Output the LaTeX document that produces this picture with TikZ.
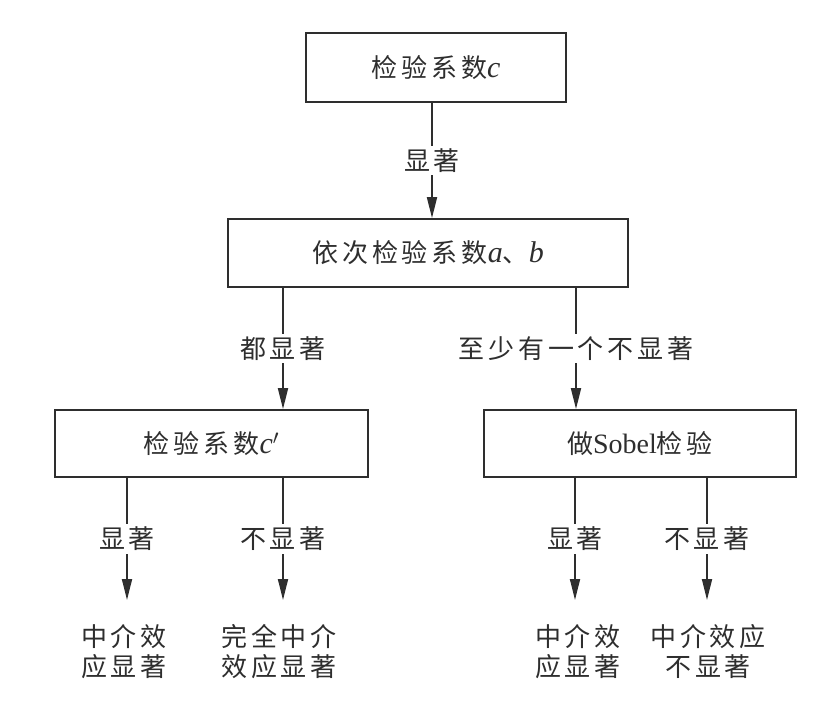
\documentclass[tikz,border=0pt]{standalone}
\usepackage{fontspec}
\usetikzlibrary{arrows.meta}
\newfontfamily\cjk[LetterSpace=15]{Noto Sans CJK SC}
\newfontfamily\tms{Liberation Serif}
\definecolor{ink}{HTML}{2E2E2E}
\tikzset{
  box/.style={draw=ink, line width=1.8pt, rectangle, inner sep=0pt, font=\cjk\fontsize{26}{30}\selectfont, text=ink},
  arr/.style={draw=ink, line width=1.8pt, -{Triangle[length=21pt,width=10pt]}},
  lab/.style={fill=white, inner xsep=1pt, inner ysep=3pt, font=\cjk\fontsize{26}{30}\selectfont, text=ink},
  res/.style={align=center, inner sep=0pt, anchor=north, font=\cjk\fontsize{26}{30}\selectfont, text=ink}
}
\begin{document}
\begin{tikzpicture}[x=1pt,y=-1pt]
\useasboundingbox (0,0) rectangle (827,707);
\node[box, minimum width=260pt, minimum height=69pt] (top) at (436,67.5) {检验系数{\tms\itshape\fontsize{30}{30}\selectfont c}};
\node[box, minimum width=400pt, minimum height=68pt] (mid) at (428,253) {依次检验系数{\tms\itshape\fontsize{30}{30}\selectfont a}、{\tms\itshape\fontsize{30}{30}\selectfont b}};
\node[box, minimum width=313pt, minimum height=67pt] (cl) at (211.5,443.5) {检验系数{\tms\itshape\fontsize{30}{30}\selectfont c$'$}};
\node[box, minimum width=312pt, minimum height=67pt] (cr) at (640,443.5) {做{\tms\fontsize{28}{30}\selectfont Sobel}检验};
\coordinate (x0) at (432,0);
\coordinate (x1) at (283,0);
\coordinate (x2) at (576,0);
\coordinate (x3) at (127,0);
\coordinate (x4) at (283,0);
\coordinate (x5) at (575,0);
\coordinate (x6) at (707,0);
\node[res] (r1) at (124,624) {中介效\\应显著};
\node[res] (r2) at (279,624) {完全中介\\效应显著};
\node[res] (r3) at (578,624) {中介效\\应显著};
\node[res] (r4) at (708,624) {中介效应\\不显著};
\draw[arr] (top.south -| x0) -- (x0 |- mid.north) node[lab, midway] {显著};
\draw[arr] (mid.south -| x1) -- (x1 |- cl.north) node[lab, midway] {都显著};
\draw[arr] (mid.south -| x2) -- (x2 |- cr.north) node[lab, midway] {至少有一个不显著};
\draw[arr] (cl.south -| x3) -- ([yshift=24pt]x3 |- r1.north) node[lab, midway] {显著};
\draw[arr] (cl.south -| x4) -- ([yshift=24pt]x4 |- r2.north) node[lab, midway] {不显著};
\draw[arr] (cr.south -| x5) -- ([yshift=24pt]x5 |- r3.north) node[lab, midway] {显著};
\draw[arr] (cr.south -| x6) -- ([yshift=24pt]x6 |- r4.north) node[lab, midway] {不显著};
\end{tikzpicture}
\end{document}
